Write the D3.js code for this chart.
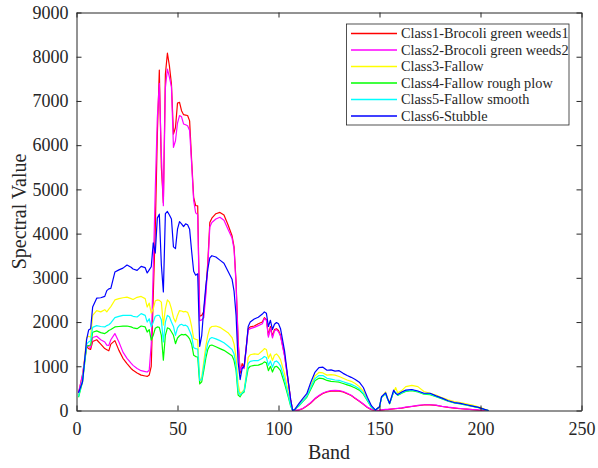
<!DOCTYPE html>
<html>
<head>
<meta charset="utf-8">
<script src="https://cdn.jsdelivr.net/npm/d3@7"></script>
<style>
  body { margin: 0; background: #fff; }
  text { font-family: "Liberation Serif", "Times New Roman", serif; fill: #262626; }
</style>
</head>
<body>
<div id="chart"></div>
<script>
// band positions where the spectra were sampled
const bands = [
  1, 3, 5, 6, 7, 8, 10, 12, 14, 15,
  16, 17, 19, 21, 23, 25, 27, 28, 30, 32,
  34, 35, 36, 37, 38, 39, 40, 41, 42, 43,
  44, 45, 46, 47, 48, 49, 50, 51, 52, 53,
  54, 55, 56, 57, 58, 59, 60, 61, 62, 63,
  64, 65, 66, 67, 69, 71, 73, 75, 77, 78,
  79, 80, 81, 82, 83, 84, 85, 86, 88, 90,
  92, 93, 94, 95, 96, 97, 98, 99, 100, 101,
  103, 105, 106, 107, 108, 110, 112, 114, 116, 118,
  120, 122, 124, 126, 128, 130, 132, 134, 136, 138,
  140, 142, 144, 146, 148, 150, 151, 153, 154, 155,
  157, 158, 159, 161, 163, 166, 169, 172, 175, 178,
  181, 184, 187, 190, 193, 196, 199, 202, 204
];

const class1 = [
  390, 800, 1440, 1400, 1380, 1560, 1600, 1500, 1400, 1375,
  1350, 1500, 1580, 1360, 1180, 1060, 950, 910, 850, 800,
  780, 770, 800, 1000, 2600, 4100, 6200, 7700, 5500, 4700,
  7600, 8080, 7790, 7380, 6250, 6400, 6950, 6970, 6780, 6690,
  6680, 6670, 6550, 5650, 4820, 4630, 4630, 2130, 2150, 2230,
  2700, 3350, 4250, 4350, 4450, 4480, 4420, 4200, 3950, 3700,
  2900, 1600, 840, 1060, 985, 1430, 1850, 1890, 1910, 1960,
  2000, 2100, 2060, 1700, 1900, 1680, 1830, 1850, 1810, 1700,
  1250, 600, 250, 0, 0, 10, 40, 100, 170, 260,
  330, 385, 420, 440, 445, 440, 420, 380, 340, 270,
  210, 140, 70, 20, 0, 5, 10, 20, 20, 25,
  35, 40, 45, 55, 70, 90, 110, 125, 125, 115,
  90, 70, 55, 40, 30, 20, 10, 5, 0
];

const class2 = [
  400, 820, 1480, 1450, 1420, 1650, 1680, 1600, 1550, 1480,
  1470, 1600, 1740, 1550, 1320, 1180, 1070, 1020, 950, 900,
  880, 870, 910, 1500, 3200, 5000, 6600, 7400, 5800, 4630,
  7300, 7720, 7540, 7320, 5950, 6100, 6500, 6670, 6640, 6480,
  6460, 6440, 6330, 5580, 4750, 4470, 4430, 2030, 2050, 2100,
  2600, 3250, 4150, 4250, 4330, 4370, 4300, 4100, 3900, 3650,
  2850, 1550, 900, 1000, 950, 1400, 1820, 1850, 1880, 1920,
  1960, 2080, 2040, 1660, 1860, 1640, 1800, 1830, 1780, 1680,
  1230, 590, 240, 0, 5, 15, 45, 110, 180, 270,
  340, 395, 430, 450, 455, 450, 430, 390, 345, 280,
  215, 145, 75, 25, 5, 10, 15, 25, 25, 30,
  40, 45, 50, 60, 75, 95, 115, 130, 130, 120,
  95, 75, 60, 45, 32, 22, 12, 6, 0
];

const class3 = [
  330, 700, 1650, 1680, 1660, 2150, 2260, 2230, 2280, 2230,
  2290, 2350, 2500, 2530, 2550, 2565, 2530, 2510, 2560, 2580,
  2530, 2340, 2430, 2200, 2300, 2480, 2500, 2490, 2450, 1930,
  2300, 2500, 2450, 2300, 2100, 2000, 2150, 2260, 2250, 2230,
  2240, 2220, 2100, 1900, 1630, 1610, 1600, 650, 760, 1100,
  1450, 1700, 1860, 1900, 1910, 1880, 1820, 1760, 1650, 1500,
  1200, 600, 390, 420, 470, 800, 1200, 1260, 1280, 1270,
  1350, 1400, 1380, 1180, 1280, 1130, 1250, 1280, 1230, 1150,
  830, 380, 150, 0, 20, 120, 230, 330, 560, 780,
  860, 850, 800, 810, 800, 770, 730, 690, 660, 610,
  540, 440, 260, 90, 10, 80, 300, 420, 290, 180,
  420, 520, 400, 450, 540, 570, 540, 430, 390, 350,
  290, 240, 200, 180, 150, 120, 85, 30, 0
];

const class4 = [
  300, 650, 1450, 1470, 1480, 1770, 1800, 1760, 1740, 1770,
  1810, 1830, 1890, 1900, 1910, 1910, 1890, 1870, 1850, 1910,
  1890, 1775, 1830, 1590, 1700, 1860, 1890, 1880, 1700, 1140,
  1700, 1870, 1850, 1780, 1700, 1510, 1640, 1690, 1720, 1710,
  1720, 1680, 1620, 1500, 1250, 1220, 1210, 600, 650, 900,
  1180, 1380, 1470, 1480, 1440, 1400, 1360, 1300, 1240, 1130,
  900, 350, 310, 385, 420, 700, 950, 1000, 1020, 1025,
  1060, 1100, 1080, 900, 1000, 870, 980, 1000, 960, 900,
  610, 280, 100, 0, 20, 100, 200, 300, 480, 670,
  730, 720, 680, 660, 650, 640, 610, 580, 550, 510,
  460, 370, 220, 70, 10, 80, 290, 380, 260, 150,
  420, 400, 340, 390, 430, 450, 420, 370, 360, 310,
  260, 210, 170, 150, 120, 95, 65, 20, 0
];

const class5 = [
  320, 680, 1500, 1550, 1580, 1880, 1920, 1900, 1890, 1920,
  1940, 1980, 2100, 2130, 2150, 2150, 2150, 2130, 2115, 2190,
  2150, 2000, 2075, 1890, 2000, 2130, 2150, 2150, 2050, 1550,
  2000, 2150, 2120, 2000, 1900, 1700, 1870, 1930, 1950, 1920,
  1930, 1900, 1800, 1680, 1420, 1400, 1390, 680, 700, 1000,
  1300, 1520, 1620, 1650, 1620, 1580, 1530, 1460, 1380, 1280,
  1000, 450, 350, 400, 440, 750, 1060, 1110, 1130, 1130,
  1180, 1220, 1200, 1020, 1120, 980, 1100, 1120, 1080, 1010,
  700, 320, 120, 0, 20, 110, 210, 320, 520, 720,
  790, 790, 730, 710, 690, 680, 650, 620, 590, 550,
  490, 390, 240, 80, 10, 80, 300, 390, 260, 160,
  430, 410, 350, 400, 445, 465, 430, 380, 375, 320,
  270, 215, 175, 155, 125, 98, 68, 22, 0
];

const class6 = [
  400, 650, 1600, 1820, 1850, 2340, 2540, 2550, 2580, 2710,
  2750, 2760, 3130, 3180, 3220, 3290, 3240, 3200, 3170, 3260,
  3230, 3110, 3180, 3250, 3790, 3560, 4350, 4440, 3300, 2680,
  4450, 4500, 4420, 4330, 3700, 3660, 4100, 4270, 4220, 4160,
  4220, 4200, 4100, 3600, 3150, 3060, 3090, 1450, 1700, 2300,
  2800, 3200, 3450, 3500, 3470, 3400, 3330, 3150, 2970, 2700,
  2150, 1100, 700, 950, 1000, 1400, 1900, 2000, 2070, 2110,
  2180, 2230, 2200, 1900, 2040, 1830, 1950, 1990, 1960, 1850,
  1350, 600, 250, 0, 20, 150, 270, 380, 640, 860,
  970, 980, 910, 920, 890, 900, 840, 790, 750, 700,
  640, 520, 300, 110, 10, 85, 310, 400, 270, 160,
  460, 385, 360, 420, 460, 475, 440, 390, 390, 330,
  280, 220, 180, 160, 130, 100, 70, 25, 0
];

const classNames = [
  "Class1-Brocoli green weeds1",
  "Class2-Brocoli green weeds2",
  "Class3-Fallow",
  "Class4-Fallow rough plow",
  "Class5-Fallow smooth",
  "Class6-Stubble"
];
const classColors = ["#ff0000", "#ff00ff", "#ffff00", "#00ff00", "#00ffff", "#0000ff"];
const series = [class1, class2, class3, class4, class5, class6];

const xTicks = [0, 50, 100, 150, 200, 250];
const yTicks = [0, 1000, 2000, 3000, 4000, 5000, 6000, 7000, 8000, 9000];

const margin = { top: 12, right: 17, bottom: 58, left: 76 };
const width = 598 - margin.left - margin.right;
const height = 468 - margin.top - margin.bottom;
const axisColor = "#262626";

const svg = d3.select("#chart")
  .append("svg")
    .attr("width", 598)
    .attr("height", 468)
  .append("g")
    .attr("transform", `translate(${margin.left + 0.5},${margin.top + 0.5})`);

const x = d3.scaleLinear().domain([0, 250]).range([0, width]);
const y = d3.scaleLinear().domain([0, 9000]).range([height, 0]);

// spectra, class 1 drawn first so class 6 ends up on top
const line = d3.line()
  .x((d, i) => x(bands[i]))
  .y(d => y(d));

svg.selectAll(".spectrum")
  .data(series)
  .enter()
  .append("path")
    .attr("class", "spectrum")
    .attr("d", line)
    .attr("fill", "none")
    .attr("stroke", (d, i) => classColors[i])
    .attr("stroke-width", 1.2)
    .attr("stroke-linejoin", "round");

// box axes, ticks pointing inward
const styleAxis = g => {
  g.select(".domain").attr("stroke", axisColor);
  g.selectAll(".tick line").attr("stroke", axisColor);
  g.selectAll(".tick text")
    .attr("fill", axisColor)
    .style("font-family", "'Liberation Serif', serif")
    .style("font-size", "18px");
};

svg.append("g")
  .attr("transform", `translate(0,${height})`)
  .call(d3.axisBottom(x).tickValues(xTicks).tickFormat(d3.format("d"))
    .tickSizeInner(-5).tickSizeOuter(0).tickPadding(12))
  .call(styleAxis);

svg.append("g")
  .call(d3.axisTop(x).tickValues(xTicks).tickFormat("").tickSizeInner(-5).tickSizeOuter(0))
  .call(styleAxis);

svg.append("g")
  .call(d3.axisLeft(y).tickValues(yTicks).tickFormat(d3.format("d"))
    .tickSizeInner(-5).tickSizeOuter(0).tickPadding(8))
  .call(styleAxis);

svg.append("g")
  .attr("transform", `translate(${width},0)`)
  .call(d3.axisRight(y).tickValues(yTicks).tickFormat("").tickSizeInner(-5).tickSizeOuter(0))
  .call(styleAxis);

// axis titles
svg.append("text")
  .attr("x", width / 2)
  .attr("y", height + 48)
  .style("text-anchor", "middle")
  .style("font-size", "20px")
  .text("Band");

svg.append("text")
  .attr("transform", `translate(${-51},${height / 2}) rotate(-90)`)
  .style("text-anchor", "middle")
  .style("font-size", "20px")
  .text("Spectral Value");

// legend
const legendItems = classNames.map((name, i) => ({ name: name, color: classColors[i] }));

const legend = svg.append("g")
  .attr("transform", `translate(${346.5 - margin.left - 0.5},${24 - margin.top - 0.5})`);

legend.append("rect")
  .attr("width", 222.5)
  .attr("height", 101)
  .attr("fill", "#fff")
  .attr("stroke", axisColor)
  .attr("stroke-width", 0.8);

const rows = legend.selectAll(".row")
  .data(legendItems)
  .enter()
  .append("g")
    .attr("class", "row")
    .attr("transform", (d, i) => `translate(0,${9.5 + i * 16.5})`);

rows.append("line")
  .attr("x1", 4.5)
  .attr("x2", 50.5)
  .attr("stroke", d => d.color)
  .attr("stroke-width", 1.5);

rows.append("text")
  .attr("x", 54.5)
  .attr("dy", "0.33em")
  .style("font-size", "14.3px")
  .text(d => d.name);
</script>
</body>
</html>
